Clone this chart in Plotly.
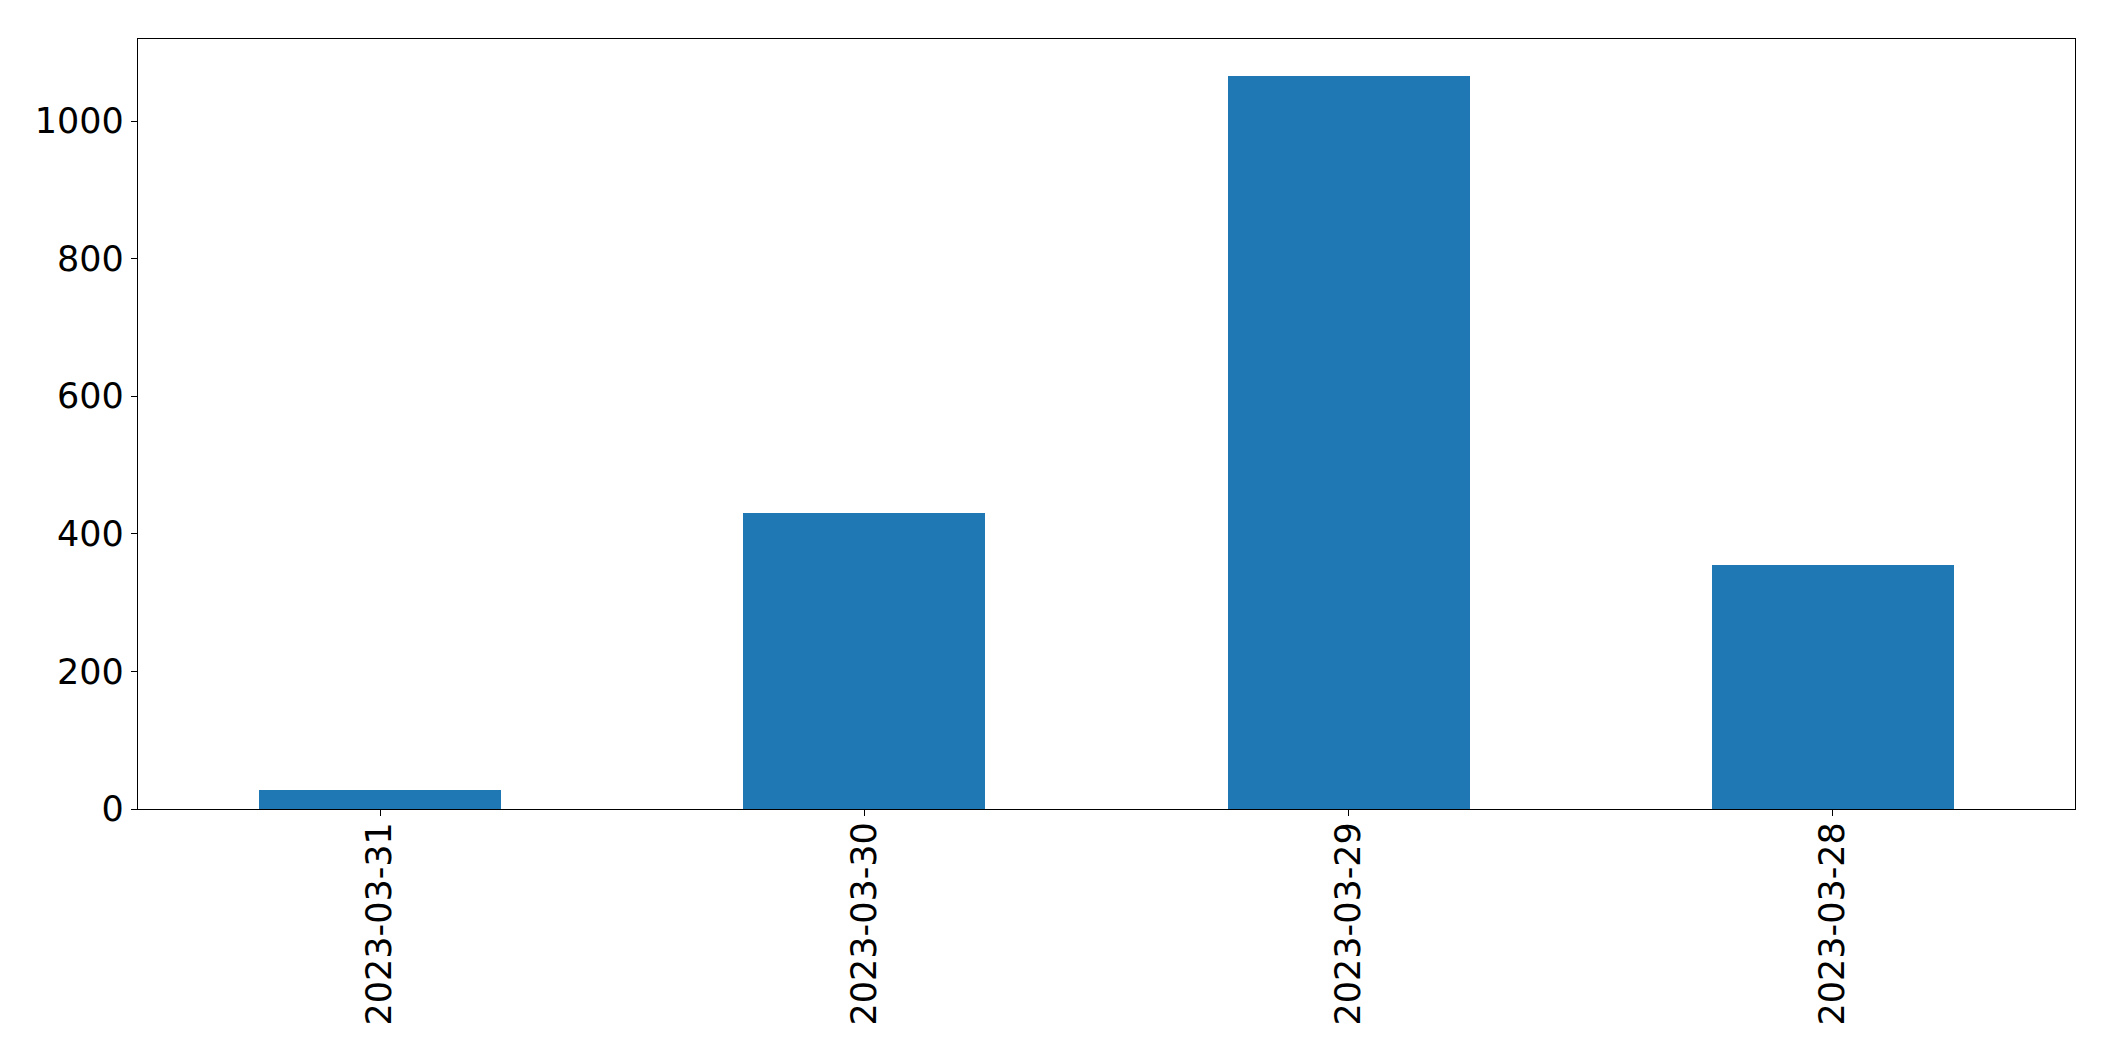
import plotly.graph_objects as go

categories = ["2023-03-31", "2023-03-30", "2023-03-29", "2023-03-28"]
values = [28, 431, 1066, 355]
y_ticks = [0, 200, 400, 600, 800, 1000]

fig = go.Figure(
    go.Bar(
        x=list(range(len(categories))),
        y=values,
        width=0.5,
        marker=dict(color="#1f77b4", line=dict(width=0)),
    )
)

axis_common = dict(
    showline=True,
    linecolor="black",
    linewidth=1.3,
    mirror=True,
    ticks="outside",
    ticklen=6,
    tickwidth=1.3,
    tickcolor="black",
    showgrid=False,
    zeroline=False,
    tickfont=dict(family="DejaVu Sans", size=35, color="black"),
)

fig.update_layout(
    width=2115,
    height=1061,
    margin=dict(l=130, r=48, t=31, b=260, autoexpand=False),
    paper_bgcolor="white",
    plot_bgcolor="white",
    showlegend=False,
    bargap=0,
    xaxis=dict(
        range=[-0.5, len(categories) - 0.5],
        tickmode="array",
        tickvals=list(range(len(categories))),
        ticktext=categories,
        tickangle=-90,
        ticklabelstandoff=-8,
        **axis_common,
    ),
    yaxis=dict(
        range=[0, max(values) * 1.05],
        tickmode="array",
        tickvals=y_ticks,
        ticktext=[str(v) for v in y_ticks],
        **axis_common,
    ),
)

fig.write_html("out.html")
